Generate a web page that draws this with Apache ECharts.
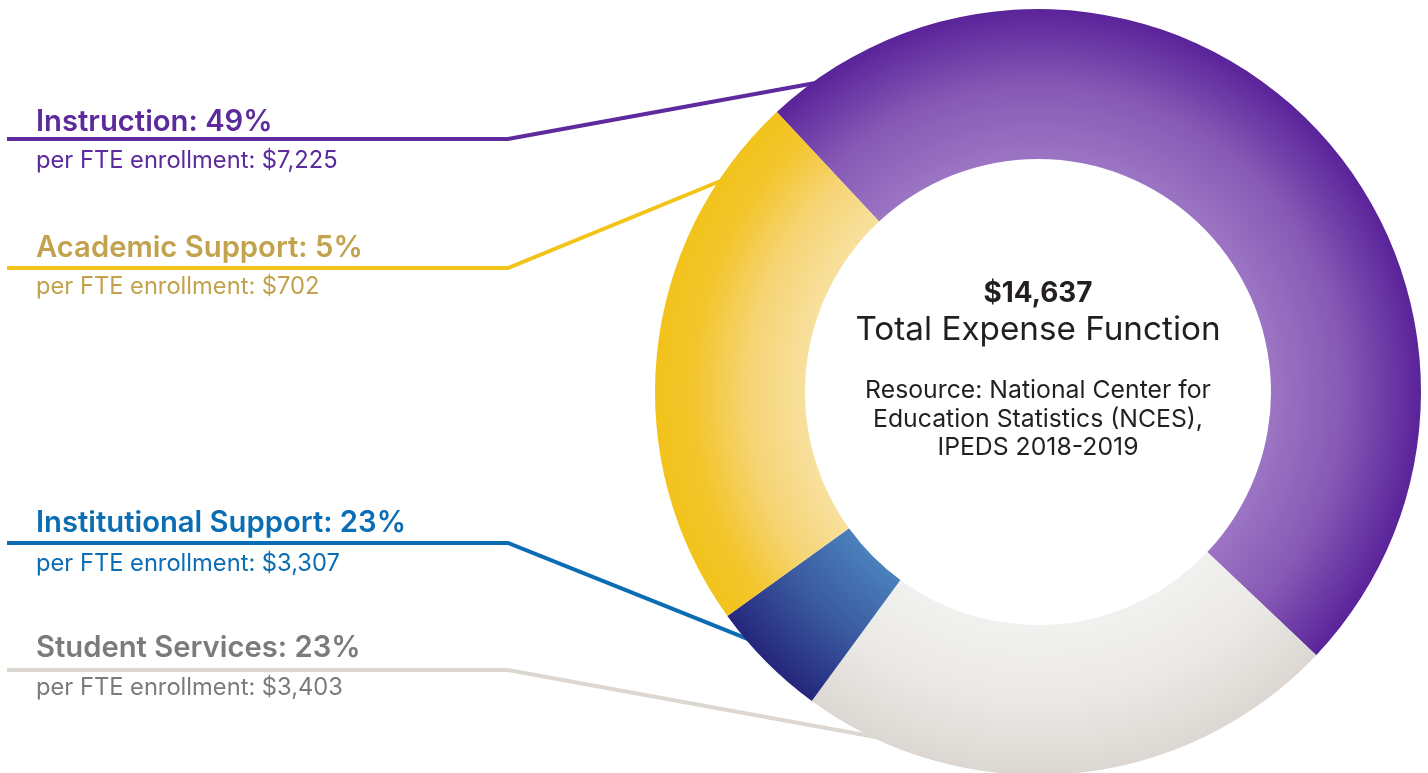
<!DOCTYPE html>
<html><head><meta charset="utf-8">
<script src="https://cdn.jsdelivr.net/npm/echarts@6/dist/echarts.min.js"></script>
<style>html,body{margin:0;padding:0;background:#fff}#c{width:1428px;height:773px}</style>
</head><body><div id="c"></div>
<script>
// ---- data ----
const categories = ['Instruction', 'Academic Support', 'Institutional Support', 'Student Services'];
const percents = [49, 5, 23, 23];
const perFTE = ['$7,225', '$702', '$3,307', '$3,403'];
const totalLabel = '$14,637';
const centerTitle = 'Total Expense Function';
const sourceLines = ['Resource: National Center for', 'Education Statistics (NCES),', 'IPEDS 2018-2019'];
// order of the slices around the ring, clockwise, as drawn in the reference
const ringOrder = ['Instruction', 'Student Services', 'Academic Support', 'Institutional Support'];

// ---- styling / layout ----
const FONT = 'Inter';
const CX = 1038, CY = 392, RI = 233, RO = 383;
const labelColors = {
  'Instruction': '#5b2a9b', 'Academic Support': '#c2a24c',
  'Institutional Support': '#0b6db3', 'Student Services': '#7b7b7b'
};
const lineColors = {
  'Instruction': '#5e2a9d', 'Academic Support': '#f2c318',
  'Institutional Support': '#0a6cb2', 'Student Services': '#ddd7d2'
};
function radial(stops) {
  return { type: 'radial', x: CX, y: CY, r: RO, global: true,
    colorStops: stops.map(s => ({ offset: s[0], color: s[1] })) };
}
const ringColors = {
  'Instruction': radial([[0.6, '#9c76c4'], [0.8, '#8659b5'], [1, '#5a239a']]),
  'Student Services': radial([[0.6, '#f1f1ef'], [0.8, '#ebe9e6'], [1, '#dcd7d2']]),
  'Academic Support': radial([[0.6, '#4b82bd'], [0.8, '#3a5a9f'], [1, '#25267c']]),
  'Institutional Support': radial([[0.6, '#f8e1a0'], [0.75, '#f6d577'], [0.9, '#f3c52c'], [1, '#f2c31b']])
};
// label block layout (reference pixel positions of annotation text/lines)
const labelLayout = {
  'Instruction':           { head: 131, sub: 168, line: 139, anchorDeg: 324.8 },
  'Academic Support':      { head: 257, sub: 294, line: 268, anchorDeg: 304.1 },
  'Institutional Support': { head: 532, sub: 571, line: 543, anchorDeg: 229.0 },
  'Student Services':      { head: 657, sub: 695, line: 670, anchorDeg: 203.8 }
};
const LEFT_X = 36, LINE_X0 = 7, ELBOW_X = 508;

const ctx = document.createElement('canvas').getContext('2d');
function fit(text, weight, target) {
  ctx.font = weight + ' 100px ' + FONT;
  return 100 * target / ctx.measureText(text).width;
}
const headSize = fit('Institutional Support: 23%', 600, 370);
const subSize = fit('per FTE enrollment: $3,307', 400, 304);
const totalSize = fit(totalLabel, 700, 109);
const titleSize = fit(centerTitle, 400, 365);
const srcSize = fit(sourceLines[1], 400, 330);

function textAt(text, x, baseline, size, weight, color, align) {
  return { type: 'text', x: x, y: baseline - 0.31 * size, z: 10, silent: true,
    style: { text: text, fill: color, font: weight + ' ' + size.toFixed(2) + 'px ' + FONT,
      textAlign: align || 'left', textVerticalAlign: 'middle' } };
}

const graphics = [];
categories.forEach((name, i) => {
  const L = labelLayout[name];
  const a = L.anchorDeg * Math.PI / 180;
  const ex = CX + (RO - 4) * Math.sin(a), ey = CY - (RO - 4) * Math.cos(a);
  graphics.push({ type: 'polyline', z: 0, silent: true,
    shape: { points: [[LINE_X0, L.line], [ELBOW_X, L.line], [ex, ey]] },
    style: { stroke: lineColors[name], lineWidth: 4, fill: null, lineJoin: 'miter' } });
  graphics.push(textAt(name + ': ' + percents[i] + '%', LEFT_X, L.head, headSize, 600, labelColors[name]));
  graphics.push(textAt('per FTE enrollment: ' + perFTE[i], LEFT_X, L.sub, subSize, 400, labelColors[name]));
});
graphics.push(textAt(totalLabel, CX, 302, totalSize, 700, '#231f20', 'center'));
graphics.push(textAt(centerTitle, CX, 340, titleSize, 400, '#231f20', 'center'));
[398, 427, 455].forEach((b, k) => graphics.push(textAt(sourceLines[k], CX, b, srcSize, 400, '#231f20', 'center')));

const chart = echarts.init(document.getElementById('c'), null, { renderer: 'canvas' });
chart.setOption({
  animation: false,
  backgroundColor: '#ffffff',
  graphic: { elements: graphics },
  series: [{
    type: 'pie', z: 5, silent: true,
    center: [CX, CY], radius: [RI, RO],
    startAngle: 133, clockwise: true,
    avoidLabelOverlap: false,
    label: { show: false }, labelLine: { show: false },
    emphasis: { disabled: true },
    itemStyle: { borderWidth: 0 },
    data: ringOrder.map(n => ({ name: n, value: percents[categories.indexOf(n)], itemStyle: { color: ringColors[n] } }))
  }]
});
</script>
</body></html>
